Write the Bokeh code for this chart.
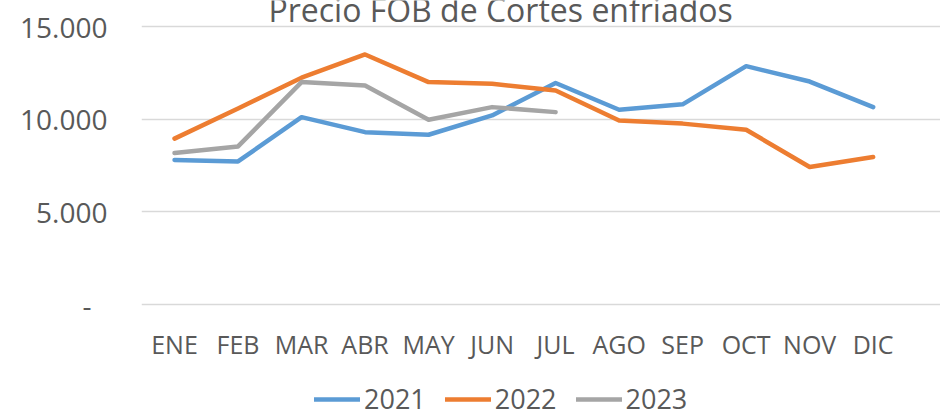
from bokeh.plotting import figure
from bokeh.models import FixedTicker, Legend, LegendItem, Label, Range1d
from bokeh.embed import file_html
from bokeh.resources import INLINE

months = ["ENE", "FEB", "MAR", "ABR", "MAY", "JUN", "JUL", "AGO", "SEP", "OCT", "NOV", "DIC"]
v2021 = [7800, 7720, 10110, 9300, 9160, 10200, 11950, 10510, 10800, 12860, 12030, 10650]
v2022 = [8950, 10580, 12240, 13490, 12000, 11910, 11550, 9930, 9760, 9430, 7420, 7960]
v2023 = [8170, 8530, 12000, 11820, 9970, 10650, 10380]
years = ["2021", "2022", "2023"]
colors = ["#5B9BD5", "#ED7D31", "#A5A5A5"]
y_ticks = [0, 5000, 10000, 15000]
y_labels = ["-\u2007", "5.000", "10.000", "15.000"]
title_text = "Precio FOB de Cortes enfriados"

FONT = "Open Sans"
TXT = "#595959"

p = figure(width=940, height=413, output_backend="svg", toolbar_location=None,
           x_range=Range1d(-0.52, 12.06), y_range=Range1d(-5881, 16403),
           min_border_left=141, min_border_right=0, min_border_top=0, min_border_bottom=0)
p.outline_line_color = None
p.background_fill_color = "white"
p.border_fill_color = "white"

series = [v2021, v2022, v2023]
renderers = []
for vals, c in zip(series, colors):
    xs = list(range(len(vals)))
    r = p.line(xs, vals, line_color=c, line_width=4.5, line_join="round", line_cap="round")
    renderers.append(r)

# axes
p.xaxis.fixed_location = 0
p.xaxis.ticker = FixedTicker(ticks=list(range(len(months))))
p.xaxis.major_label_overrides = {i: m for i, m in enumerate(months)}
p.yaxis.ticker = FixedTicker(ticks=y_ticks)
p.yaxis.major_label_overrides = {t: l for t, l in zip(y_ticks, y_labels)}
for ax in (p.xaxis, p.yaxis):
    ax.axis_line_color = None
    ax.major_tick_line_color = None
    ax.minor_tick_line_color = None
    ax.major_tick_in = 0
    ax.major_tick_out = 0
    ax.major_label_text_font = FONT
    ax.major_label_text_color = TXT
p.xaxis.major_label_text_font_size = "25px"
p.yaxis.major_label_text_font_size = "28px"
p.yaxis.major_label_standoff = 34
p.xaxis.major_label_standoff = 22

p.xgrid.grid_line_color = None
p.ygrid.ticker = FixedTicker(ticks=y_ticks)
p.ygrid.grid_line_color = "#D9D9D9"
p.ygrid.grid_line_width = 1.5

title = Label(x=5.134, y=15918, text=title_text, text_align="center", text_baseline="alphabetic",
              text_font=FONT, text_font_size="32px", text_color=TXT)
p.add_layout(title)

legend = Legend(items=[LegendItem(label=y, renderers=[r]) for y, r in zip(years, renderers)],
                location=(173, -4), orientation="horizontal")
legend.padding = 0
legend.margin = 0
legend.spacing = 19
legend.glyph_width = 46
legend.glyph_height = 20
legend.label_standoff = 4
legend.border_line_color = None
legend.background_fill_alpha = 0
legend.label_text_font = FONT
legend.label_text_font_size = "27px"
legend.label_text_color = TXT
p.add_layout(legend, "center")

open("out.html", "w").write(file_html(p, INLINE))
